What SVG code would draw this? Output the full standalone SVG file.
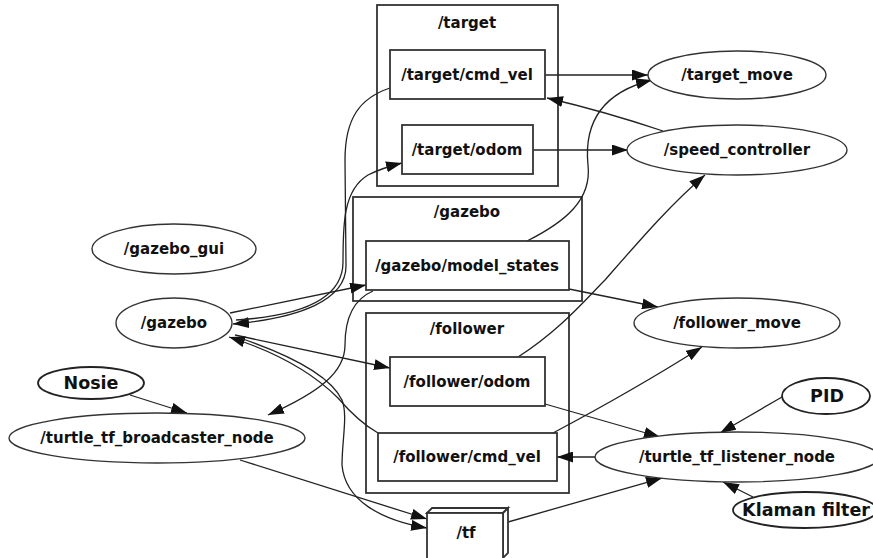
<svg xmlns="http://www.w3.org/2000/svg" width="873" height="558" viewBox="0 0 873 558">
<defs>
<marker id="ah" markerWidth="16" markerHeight="11" refX="16" refY="5.5" orient="auto" markerUnits="userSpaceOnUse">
<path d="M0,0 L16,5.5 L0,11 z" fill="#111"/>
</marker>
<style>
.cl{fill:none;stroke:#333;stroke-width:1.8}
.bx{fill:#fff;stroke:#333;stroke-width:1.8}
.el{fill:#fff;stroke:#333;stroke-width:1.4}
.el2{fill:#fff;stroke:#222;stroke-width:1.8}
.t{font-family:"DejaVu Sans",sans-serif;font-weight:bold;font-size:15px;text-anchor:middle;fill:#111}
.u{font-family:"DejaVu Sans",sans-serif;font-weight:bold;font-size:17.5px;text-anchor:middle;fill:#111}
.e{fill:none;stroke:#222;stroke-width:1.3;marker-end:url(#ah)}
</style>
</defs>
<rect width="873" height="558" fill="#fff"/>

<g id="cluster_target"><rect class="cl" x="377" y="5" width="181" height="181"/><text class="t" x="467" y="28">/target</text></g>
<g id="cluster_gazebo"><rect class="cl" x="353" y="197" width="229" height="104"/><text class="t" x="467" y="217">/gazebo</text></g>
<g id="cluster_follower"><rect class="cl" x="366" y="313" width="203" height="180"/><text class="t" x="467" y="334">/follower</text></g>

<g id="connectors">
<path class="e" d="M545,75 L648,75"/>
<path class="e" d="M663,131 C630,120 590,108 547,98"/>
<path class="e" d="M533,150 L628,150"/>
<path class="e" d="M527,241 C565,222 592,200 588,165 C584,125 600,93 652,80"/>
<path class="e" d="M518,357 C560,330 585,300 605,280 C640,240 670,205 705,175"/>
<path class="e" d="M569,289 L658,307"/>
<path class="e" d="M553,433 C600,408 650,380 702,347"/>
<path class="e" d="M545,404 L660,437"/>
<path class="e" d="M595,457 L557,457"/>
<path class="e" d="M508,522 L662,478"/>
<path class="e" d="M782,397 L720,433"/>
<path class="e" d="M753,497 L723,482"/>
<path class="e" d="M130,395 L187,413"/>
<path class="e" d="M230,313 L366,285"/>
<path class="e" d="M390,88 C360,98 345,118 345,160 L346,265 C347,300 300,318 233,324"/>
<path class="e" d="M236,320 C300,316 343,300 343,262 C343,225 343,190 368,175 C380,169 390,166 402,163"/>
<path class="e" d="M373,291 C352,300 345,320 345,345 C345,372 320,392 268,415"/>
<path class="e" d="M235,335 L390,368"/>
<path class="e" d="M378,433 C362,424 350,412 338,398 C310,370 270,350 229,337"/>
<path class="e" d="M240,338 C290,355 330,375 342,400 C348,415 342,440 342,465 C345,500 380,520 427,528"/>
<path class="e" d="M240,460 L427,519"/>
</g>

<g id="target_cmd_vel"><rect class="bx" x="390" y="50" width="155" height="49"/><text class="t" x="467" y="80">/target/cmd_vel</text></g>
<g id="target_odom"><rect class="bx" x="402" y="125" width="131" height="49"/><text class="t" x="467" y="155">/target/odom</text></g>
<g id="gazebo_model_states"><rect class="bx" x="366" y="241" width="203" height="49"/><text class="t" x="467" y="271">/gazebo/model_states</text></g>
<g id="follower_odom"><rect class="bx" x="390" y="357" width="155" height="49"/><text class="t" x="467" y="387">/follower/odom</text></g>
<g id="follower_cmd_vel"><rect class="bx" x="378" y="433" width="179" height="48"/><text class="t" x="467" y="462">/follower/cmd_vel</text></g>
<g id="tf">
<polygon class="bx" points="427,513 432,508 508,508 503,513"/>
<polygon class="bx" points="503,513 508,508 508,553 503,558"/>
<rect class="bx" x="427" y="513" width="76" height="50"/>
<text class="t" x="466" y="538">/tf</text>
</g>

<g id="gazebo_gui"><ellipse class="el" cx="174" cy="249" rx="82" ry="25"/><text class="t" x="174" y="254">/gazebo_gui</text></g>
<g id="gazebo"><ellipse class="el" cx="174" cy="323" rx="58" ry="25"/><text class="t" x="174" y="328">/gazebo</text></g>
<g id="nosie"><ellipse class="el2" cx="91" cy="383" rx="53" ry="16"/><text class="u" x="91" y="389">Nosie</text></g>
<g id="turtle_tf_broadcaster_node"><ellipse class="el" cx="157" cy="438" rx="148" ry="25"/><text class="t" x="157" y="443">/turtle_tf_broadcaster_node</text></g>
<g id="target_move"><ellipse class="el" cx="737" cy="75" rx="89" ry="24"/><text class="t" x="737" y="80">/target_move</text></g>
<g id="speed_controller"><ellipse class="el" cx="737" cy="150" rx="110" ry="25"/><text class="t" x="737" y="155">/speed_controller</text></g>
<g id="follower_move"><ellipse class="el" cx="737" cy="323" rx="103" ry="25"/><text class="t" x="737" y="328">/follower_move</text></g>
<g id="pid"><ellipse class="el2" cx="826" cy="396" rx="44" ry="18"/><text class="u" x="827" y="402">PID</text></g>
<g id="turtle_tf_listener_node"><ellipse class="el" cx="737" cy="457" rx="142" ry="25"/><text class="t" x="737" y="462">/turtle_tf_listener_node</text></g>
<g id="klaman_filter"><ellipse class="el2" cx="805" cy="510" rx="72" ry="18"/><text class="u" x="806" y="516">Klaman filter</text></g>
</svg>
